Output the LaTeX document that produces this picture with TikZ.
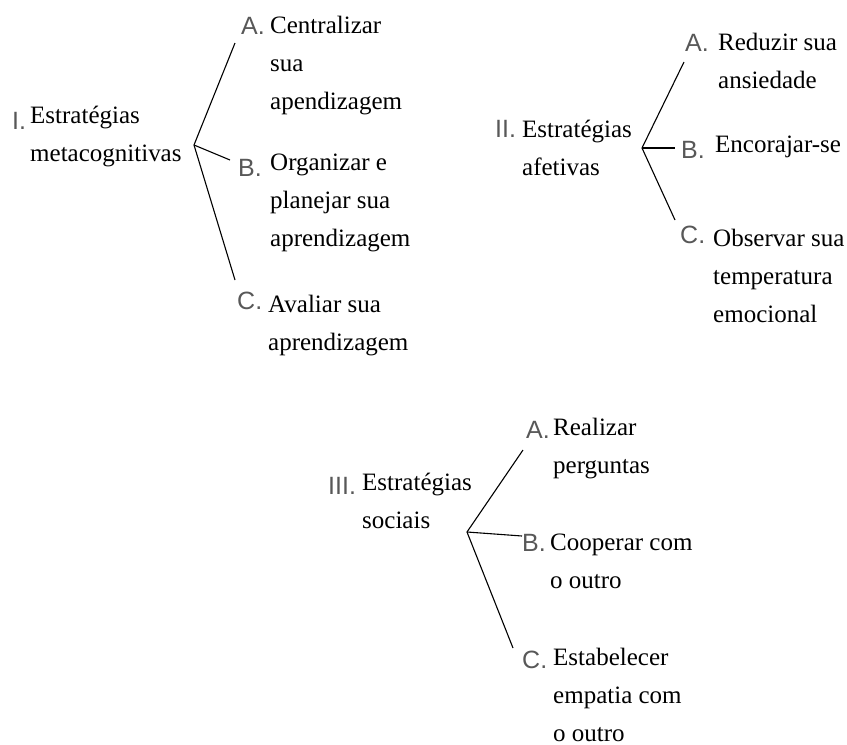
\documentclass[tikz,border=0pt]{standalone}
\usepackage{fontspec}
\setmainfont{Liberation Serif}
\newfontfamily\lblfont{Liberation Sans}
\definecolor{lblgray}{RGB}{88,88,88}
\begin{document}
\begin{tikzpicture}[x=1pt,y=-1pt,
  txt/.style={anchor=north west, inner sep=0pt, align=left,
              font=\fontsize{25}{38}\selectfont},
  lbl/.style={anchor=base west, inner sep=0pt, text=lblgray,
              font=\lblfont\fontsize{25}{25}\selectfont},
  branch/.style={line width=1.1pt, black}]
\useasboundingbox (0,0) rectangle (847,745);
% struts put the first baseline 26.6pt below the node's top
\def\sh{26.6}

% ---------- I. metacognitive strategies ----------
\node[lbl] (l1) at (12,129) {I.};
\node[txt] (t1) at (30,{123-\sh}) {\strut Estratégias\\metacognitivas};
\node[lbl] (l1a) at (241,34) {A.};
\node[txt] (t1a) at (270,{33-\sh}) {\strut Centralizar\\sua\\apendizagem};
\node[lbl] (l1b) at (238,176) {B.};
\node[txt] (t1b) at (270,{170-\sh}) {\strut Organizar e\\planejar sua\\aprendizagem};
\node[lbl] (l1c) at (237,309) {C.};
\node[txt] (t1c) at (268,{312-\sh}) {\strut Avaliar sua\\aprendizagem};
\coordinate (h1) at (194,145);
\coordinate (e1a) at (235,43);
\coordinate (e1b) at (230,160);
\coordinate (e1c) at (235,280);
\draw[branch] (e1a) -- (h1) -- (e1c);
\draw[branch] (h1) -- (e1b);

% ---------- II. affective strategies ----------
\node[lbl] (l2) at (495,137) {II.};
\node[txt] (t2) at (522,{137-\sh}) {\strut Estratégias\\afetivas};
\node[lbl] (l2a) at (685,51) {A.};
\node[txt] (t2a) at (718,{50-\sh}) {\strut Reduzir sua\\ansiedade};
\node[lbl] (l2b) at (681,158) {B.};
\node[txt] (t2b) at (715,{152-\sh}) {\strut Encorajar-se};
\node[lbl] (l2c) at (680,243) {C.};
\node[txt] (t2c) at (713,{246-\sh}) {\strut Observar sua\\temperatura\\emocional};
\coordinate (h2) at (642,148);
\coordinate (e2a) at (684,62);
\coordinate (e2b) at (675,148);
\coordinate (e2c) at (675,220);
\draw[branch] (e2a) -- (h2) -- (e2c);
\draw[branch] (h2) -- (e2b);

% ---------- III. social strategies ----------
\node[lbl] (l3) at (328,494) {III.};
\node[txt] (t3) at (362,{490-\sh}) {\strut Estratégias\\sociais};
\node[lbl] (l3a) at (526,438) {A.};
\node[txt] (t3a) at (553,{435-\sh}) {\strut Realizar\\perguntas};
\node[lbl] (l3b) at (522,551) {B.};
\node[txt] (t3b) at (550,{550-\sh}) {\strut Cooperar com\\o outro};
\node[lbl] (l3c) at (522,668) {C.};
\node[txt] (t3c) at (553,{665-\sh}) {\strut Estabelecer\\empatia com\\o outro};
\coordinate (h3) at (467,532);
\coordinate (e3a) at (523,450);
\coordinate (e3b) at (522,536);
\coordinate (e3c) at (513,648);
\draw[branch] (e3a) -- (h3) -- (e3c);
\draw[branch] (h3) -- (e3b);
\end{tikzpicture}
\end{document}
